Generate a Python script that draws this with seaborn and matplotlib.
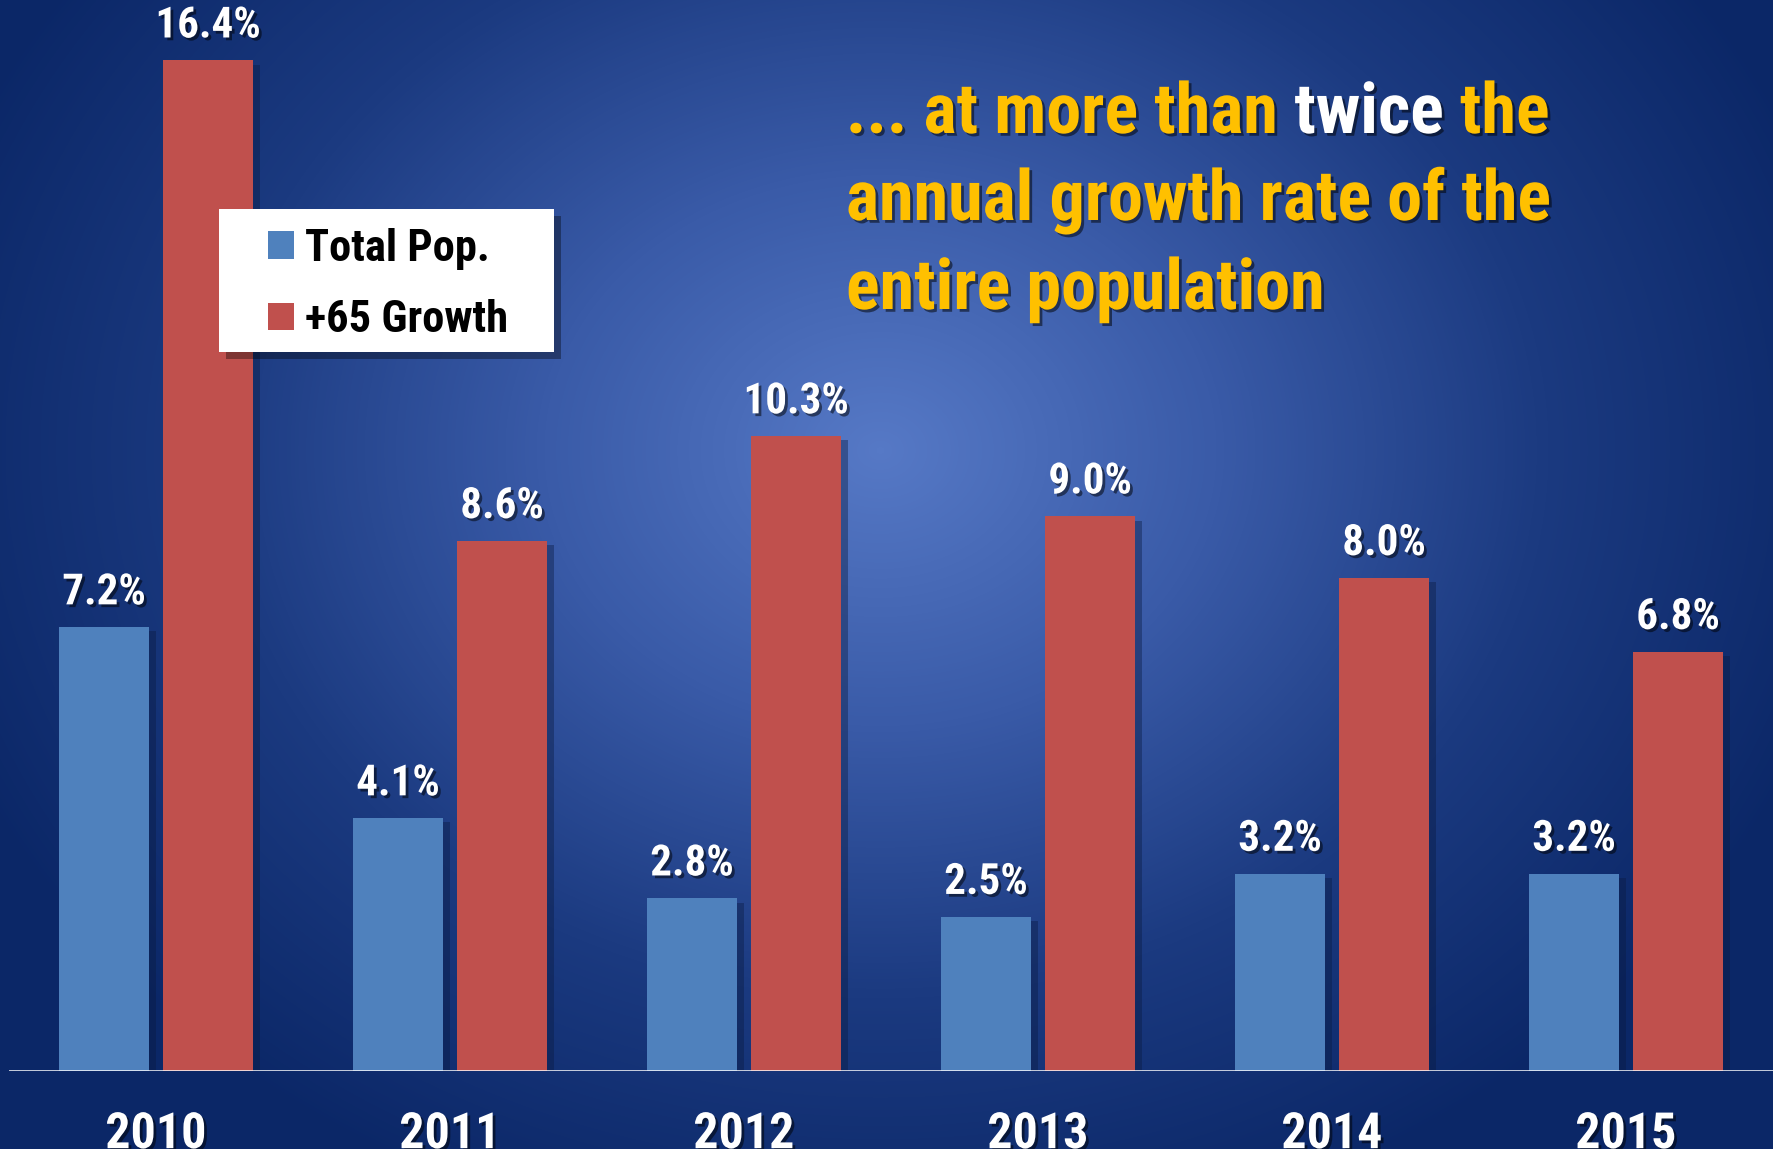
import numpy as np
import pandas as pd
import matplotlib
matplotlib.use('Agg')
import matplotlib.pyplot as plt
import matplotlib.patheffects as pe
from matplotlib.colors import LinearSegmentedColormap
from matplotlib.patches import Patch, Rectangle
import seaborn as sns

# 数据
years = ['2010', '2011', '2012', '2013', '2014', '2015']
total_pop = [7.2, 4.1, 2.8, 2.5, 3.2, 3.2]
growth_65 = [16.4, 8.6, 10.3, 9.0, 8.0, 6.8]
series_names = ['Total Pop.', '+65 Growth']
series_colors = ['#4F81BD', '#C0504D']

sns.set_style("white")
plt.rcParams['font.family'] = ['Roboto Condensed', 'DejaVu Sans']
plt.rcParams['font.weight'] = 'bold'

df = pd.DataFrame({
    'year': years * 2,
    'value': total_pop + growth_65,
    'series': [series_names[0]] * len(years) + [series_names[1]] * len(years),
})

W, H, DPI = 1773, 1149, 100
fig = plt.figure(figsize=(W / DPI, H / DPI), dpi=DPI)

# 背景：径向渐变
bg = fig.add_axes([0, 0, 1, 1], zorder=0)
yy, xx = np.mgrid[0:H, 0:W]
r = np.sqrt(((xx - 880) / 1000.0) ** 2 + ((yy - 450) / 820.0) ** 2)
r = np.clip(r, 0, 1)
cmap_bg = LinearSegmentedColormap.from_list('bg', ['#5679C6', '#3A5BA8', '#1B3A80', '#0B2767'])
bg.imshow(r, cmap=cmap_bg, vmin=0, vmax=1, aspect='auto', interpolation='bilinear')
bg.axis('off')

# 主图
ax = fig.add_axes([9 / W, 0.068, 1 - 9 / W, 0.932], zorder=1)
ax.patch.set_alpha(0)
sns.barplot(data=df, x='year', y='value', hue='series', palette=series_colors,
            width=0.708, gap=0.13, saturation=1, linewidth=0, ax=ax, legend=False)

shadow = [pe.SimplePatchShadow(offset=(5, -3), shadow_rgbFace='#0a1a40', alpha=0.4), pe.Normal()]
text_shadow = [pe.withSimplePatchShadow(offset=(2, -2), shadow_rgbFace='black', alpha=0.5)]

for container in ax.containers:
    for bar in container:
        bar.set_path_effects(shadow)
    ax.bar_label(container, labels=[f'{v:.1f}%' for v in container.datavalues],
                 padding=10, color='white', fontsize=31, fontweight='bold',
                 path_effects=text_shadow)

ax.set_xlim(-0.5, 5.5)
ax.set_ylim(0, 17.38)
ax.axhline(0, color='white', lw=1.8, zorder=5)
sns.despine(ax=ax, left=True, bottom=True, right=True, top=True)
ax.set_yticks([])
ax.set_xlabel('')
ax.set_ylabel('')
ax.tick_params(axis='x', length=0, pad=29, labelsize=36, labelcolor='white')
for lbl in ax.get_xticklabels():
    lbl.set_fontweight('bold')
    lbl.set_path_effects(text_shadow)

# 图例（白色方框 + 阴影）
box = Rectangle((219 / W, 1 - 352 / H), (554 - 219) / W, (352 - 209) / H,
                transform=fig.transFigure, facecolor='white', edgecolor='none', zorder=3,
                path_effects=[pe.SimplePatchShadow(offset=(5, -5), shadow_rgbFace='black', alpha=0.35), pe.Normal()])
fig.patches.append(box)
handles = [Patch(facecolor=c, edgecolor='none') for c in series_colors]
leg = fig.legend(handles, series_names, loc='upper left', bbox_to_anchor=(268 / W, 1 - 228 / H),
                 fontsize=32, frameon=False,
                 handlelength=0.58, handleheight=0.58, handletextpad=0.25,
                 labelspacing=0.66, borderpad=0, borderaxespad=0)
leg.set_zorder(4)
for t in leg.get_texts():
    t.set_fontweight('bold')
    t.set_color('black')

# 标题文字（分色）
gold = '#FFC000'
tfs = 50.5
lines = [
    [('... at more than', gold), (' twice', 'white'), (' the', gold)],
    [('annual growth rate of the', gold)],
    [('entire population', gold)],
]
baselines = [133, 220, 309]
for parts, yb in zip(lines, baselines):
    prev = None
    for txt, col in parts:
        if prev is None:
            prev = fig.text(846 / W, 1 - yb / H, txt, color=col, fontsize=tfs,
                            fontweight='bold', va='baseline', ha='left',
                            path_effects=text_shadow)
        else:
            prev = ax.annotate(txt, xy=(1, 0), xycoords=prev, va='bottom', ha='left',
                               color=col, fontsize=tfs, fontweight='bold',
                               path_effects=text_shadow, annotation_clip=False)

fig.savefig('out.png', dpi=DPI)
